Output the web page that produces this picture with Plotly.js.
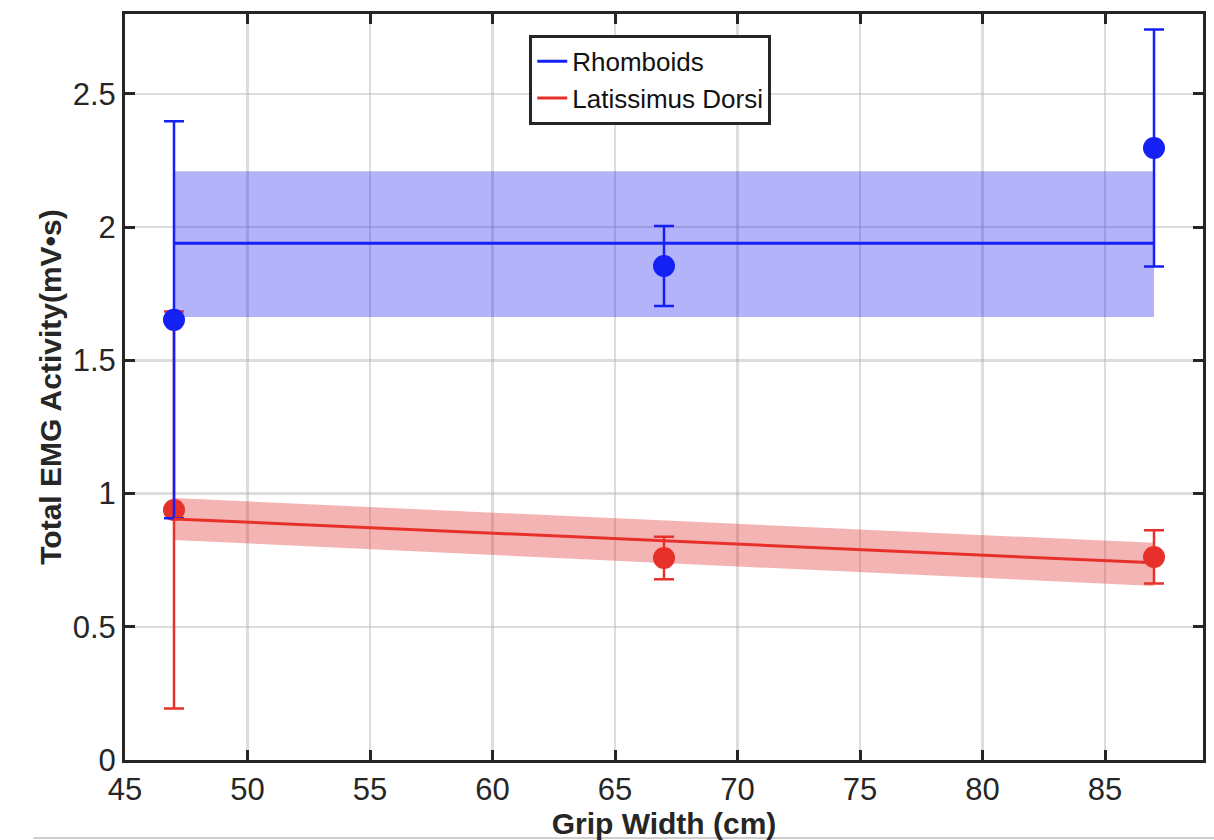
<!DOCTYPE html>
<html>
<head>
<meta charset="utf-8">
<script src="https://cdn.plot.ly/plotly-3.0.1.min.js"></script>
<style>html,body{margin:0;padding:0;background:#fff;}#chart{width:1214px;height:840px;}</style>
</head>
<body>
<div id="chart"></div>
<script>
// Data
const gripWidth = [47, 67, 87];
const rhomboidsMean = [1.652, 1.854, 2.297];
const rhomboidsErr = [0.745, 0.15, 0.445];
const latMean = [0.938, 0.758, 0.762];
const latErr = [0.745, 0.08, 0.10];

const fitX = [47, 87];
const rhomboidsFit = [1.94, 1.94];
const rhomboidsBandUpper = [2.21, 2.21];
const rhomboidsBandLower = [1.663, 1.663];
const latFit = [0.905, 0.74];
const latBandUpper = [0.983, 0.815];
const latBandLower = [0.826, 0.653];

const xTicks = [45, 50, 55, 60, 65, 70, 75, 80, 85];
const yTicks = [0, 0.5, 1, 1.5, 2, 2.5];
const yTickLabels = ['0', '0.5', '1', '1.5', '2', '2.5'];

const BLUE = '#1520f5';
const RED = '#e8302a';
const FONT = '"Liberation Sans", Arial, Helvetica, sans-serif';

const band = (upper, lower, color) => ({
  x: fitX.concat(fitX.slice().reverse()),
  y: upper.concat(lower.slice().reverse()),
  type: 'scatter', mode: 'lines', fill: 'toself',
  fillcolor: color, line: {width: 0}, showlegend: false, hoverinfo: 'skip'
});

const traces = [
  band(rhomboidsBandUpper, rhomboidsBandLower, 'rgba(20,20,240,0.32)'),
  band(latBandUpper, latBandLower, 'rgba(225,40,40,0.35)'),
  {x: gripWidth, y: latMean, type: 'scatter', mode: 'markers', showlegend: false,
   marker: {color: RED, size: 22},
   error_y: {type: 'data', array: latErr, visible: true, color: RED, thickness: 2.5, width: 10}},
  {x: gripWidth, y: rhomboidsMean, type: 'scatter', mode: 'markers', showlegend: false,
   marker: {color: BLUE, size: 22},
   error_y: {type: 'data', array: rhomboidsErr, visible: true, color: BLUE, thickness: 2.5, width: 10}},
  {x: fitX, y: rhomboidsFit, type: 'scatter', mode: 'lines', name: 'Rhomboids',
   line: {color: BLUE, width: 3}},
  {x: fitX, y: latFit, type: 'scatter', mode: 'lines', name: 'Latissimus Dorsi',
   line: {color: RED, width: 3}}
];

const axisCommon = {
  showline: true, linecolor: '#262626', linewidth: 3, mirror: 'ticks',
  ticks: 'inside', ticklen: 10, tickwidth: 3, tickcolor: '#262626',
  showgrid: true, gridcolor: 'rgba(180,180,180,0.45)', gridwidth: 2.5,
  zeroline: false,
  tickfont: {family: FONT, size: 31, color: '#262626'}
};

const layout = {
  width: 1214, height: 840,
  margin: {l: 125, r: 11, t: 14, b: 80},
  paper_bgcolor: '#ffffff', plot_bgcolor: '#ffffff',
  showlegend: true,
  xaxis: Object.assign({}, axisCommon, {
    range: [45, 89], tickvals: xTicks, ticktext: xTicks.map(String),
    title: {text: 'Grip Width (cm)', standoff: 0,
      font: {family: FONT, size: 30, color: '#262626', weight: 'bold'}}
  }),
  yaxis: Object.assign({}, axisCommon, {
    range: [0, 2.8], tickvals: yTicks, ticktext: yTickLabels,
    title: {text: 'Total EMG Activity(mV•s)', standoff: 3,
      font: {family: FONT, size: 30, color: '#262626', weight: 'bold'}}
  }),
  legend: {
    x: 0.375, y: 0.972, xanchor: 'left', yanchor: 'top',
    bgcolor: '#ffffff', bordercolor: '#262626', borderwidth: 3,
    font: {family: FONT, size: 26, color: '#111'},
    tracegroupgap: 0, itemwidth: 30
  },
  shapes: [{type: 'line', xref: 'paper', yref: 'paper', x0: -0.085, x1: 1.02, y0: -0.1046, y1: -0.1046,
    line: {color: '#bdbdbd', width: 1.5}}]
};

Plotly.newPlot('chart', traces, layout, {displayModeBar: false, staticPlot: true});
</script>
</body>
</html>
